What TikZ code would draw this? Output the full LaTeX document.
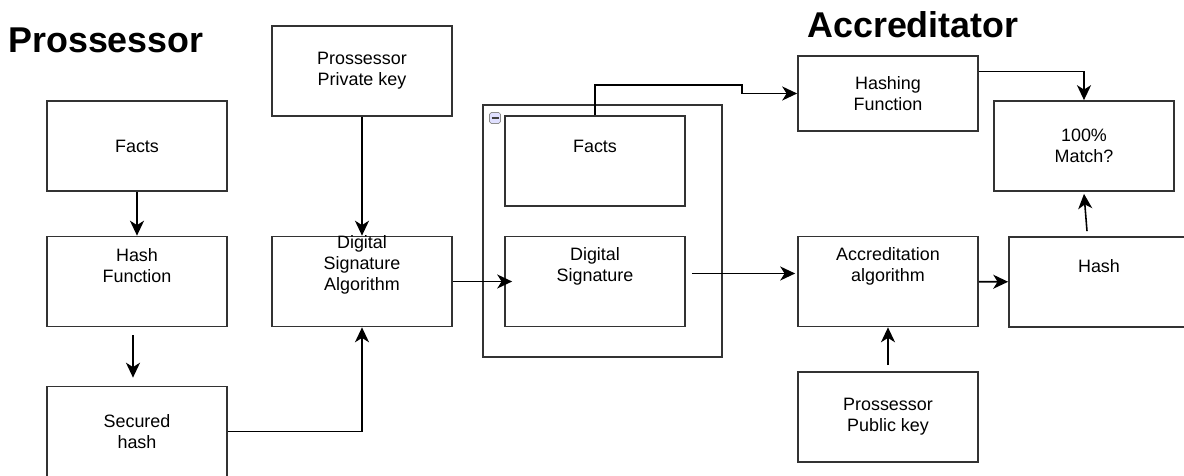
\documentclass[tikz,border=0pt]{standalone}
\usepackage{fontspec}
\setmainfont{Liberation Sans}
\usetikzlibrary{arrows.meta,calc}
\tikzset{
    block/.style = {draw=black!80, line width=1pt, rectangle, inner sep=0pt,
        minimum width=3.6cm,
        minimum height=1.8cm, align=center},
    txt/.style = {align=center, inner sep=0pt},
    title/.style = {anchor=base west, inner sep=0pt, font=\fontsize{20.4pt}{24pt}\selectfont\bfseries},
    arrow/.style = {draw, line width=0.9pt, -{Stealth[length=8.5pt,width=8pt,inset=2.5pt]}}
}

\begin{document}
\begin{tikzpicture}[x=0.02cm,y=-0.02cm,font=\fontsize{10.2pt}{12pt}\selectfont]
    \useasboundingbox (0,0) rectangle (1184,476);
    % titles
    \node[title] (prostitle) at (8,53) {Prossessor};
    \node[title] (acctitle) at (807,38) {Accreditator};
    % prossessor side
    \node[block] (facts) at (137,146) {Facts};
    \node[block] (hashfn) at (137,281.5) {};
    \node[txt] (hashfn-t) at (137,266) {Hash\\Function};
    \node[block] (secured) at (137,431.5) {Secured\\hash};
    \node[block] (privkey) at (362,71) {Prossessor\\Private key};
    \node[block] (dsa) at (362,281.5) {};
    \node[txt] (dsa-t) at (362,265) {Digital\\Signature\\Algorithm};
    % group
    \node[draw=black!80, line width=1pt, minimum width=4.78cm, minimum height=5.04cm, inner sep=0pt] (grp) at (602.5,231) {};
    \node[draw=black!45, fill=blue!12, rounded corners=1pt, minimum size=0.22cm, inner sep=0pt] (grpicon) at (495,118) {};
    \draw[black!75, line width=1.4pt] ($(grpicon)+(-3.5,0)$) -- ($(grpicon)+(3.5,0)$);
    \node[block] (ifacts) at (595,161) {};
    \node[txt] (ifacts-t) at (595,146) {Facts};
    \node[block] (dsig) at (595,281.5) {};
    \node[txt] (dsig-t) at (595,266) {Digital\\Signature};
    % accreditator side
    \node[block, minimum height=1.5cm] (hashing) at (888,93.5) {Hashing\\Function};
    \node[block] (match) at (1084,146) {100\%\\Match?};
    \node[block] (accalg) at (888,281.5) {};
    \node[txt] (accalg-t) at (888,266) {Accreditation\\algorithm};
    \node[block] (hash) at (1099,282) {};
    \node[txt] (hash-t) at (1099,266) {Hash};
    \node[block] (pubkey) at (888,417) {Prossessor\\Public key};
    % connectors
    \draw[arrow] (facts) -- (hashfn);
    \draw[arrow] ([shift={(-4,8)}]hashfn.south) -- ([shift={(-4,-8)}]secured.north);
    \draw[arrow] (secured.east) -| (dsa.south);
    \draw[arrow] (privkey) -- (dsa);
    \draw[arrow] (dsa.east) -- ([shift={(8,0)}]dsig.west);
    \draw[arrow] ([shift={(6,-8)}]dsig.east) -- ([shift={(-2,-8)}]accalg.west);
    \draw[arrow] (ifacts.north) -- ++(0,-30) -| ([shift={(-55,0)}]hashing.west) -- (hashing.west);
    \draw[arrow] ([shift={(0,-22)}]hashing.east) -| (match.north);
    \draw[arrow] ([shift={(-12,-5)}]hash.north) -- ([shift={(0,2)}]match.south);
    \draw[arrow] (accalg) -- (hash);
    \draw[arrow] ([shift={(0,-6)}]pubkey.north) -- (accalg.south);
\end{tikzpicture}
\end{document}
